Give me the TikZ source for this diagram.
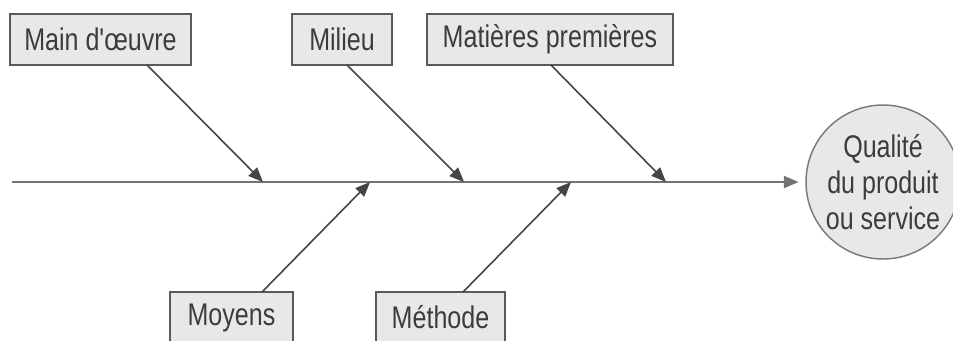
\documentclass[tikz,border=0pt]{standalone}
\usepackage{fontspec}
\setmainfont{Liberation Sans}[FakeStretch=0.8,Ligatures=TeXOff]
\usetikzlibrary{arrows.meta}
\definecolor{boxfill}{HTML}{E8E8E8}
\definecolor{boxline}{HTML}{5A5A5A}
\definecolor{txt}{HTML}{3C3C3C}
\definecolor{linec}{HTML}{454545}
\begin{document}
\begin{tikzpicture}[x=0.75pt,y=-0.75pt,
  cause/.style={draw=boxline,fill=boxfill,line width=1.3pt,inner sep=0pt,
    minimum height=51*0.75pt,text=txt,font=\fontsize{23.5}{26}\selectfont},
  effect/.style={draw=boxline!80,fill=boxfill,line width=1.1pt,
    circle,minimum size=154*0.75pt,inner sep=0pt,text=txt,align=center,
    font=\fontsize{23.5}{27}\selectfont},
  branch/.style={draw=linec,line width=1.2pt,-{Triangle[length=11pt,width=9pt]}},
  spine/.style={draw=linec!75,line width=1.5pt,-{Triangle[length=11pt,width=9pt]}}]
\useasboundingbox (0,0) rectangle (953,340);
% cause boxes
\node[cause,minimum width=181*0.75pt] (mo) at (100.5,39.5) {Main d'œuvre};
\node[cause,minimum width=100*0.75pt] (mi) at (342,39.5) {Milieu};
\node[cause,minimum width=246*0.75pt] (mp) at (550,39.5) {Matières premières};
\node[cause,minimum width=123*0.75pt] (my) at (231.5,317.5) {Moyens};
\node[cause,minimum width=129*0.75pt] (me) at (440.5,317.5) {Méthode};
% effect
\node[effect] (q) at (883,182) {Qualité\\du produit\\ou service};
% spine
\coordinate (tail) at (12,182);
\draw[spine,shorten >=5pt] (tail) -- (q.west);
% targets on spine
\coordinate (t1) at (263,182);
\coordinate (t2) at (464,182);
\coordinate (t3) at (666,182);
\coordinate (t4) at (370,182);
\coordinate (t5) at (571,182);
% start points on box edges
\coordinate (s1) at (147,65);
\coordinate (s2) at (347,65);
\coordinate (s3) at (551,65);
\coordinate (s4) at (262,292);
\coordinate (s5) at (463,292);
\draw[branch] (s1) -- (t1);
\draw[branch] (s2) -- (t2);
\draw[branch] (s3) -- (t3);
\draw[branch] (s4) -- (t4);
\draw[branch] (s5) -- (t5);
\end{tikzpicture}
\end{document}
